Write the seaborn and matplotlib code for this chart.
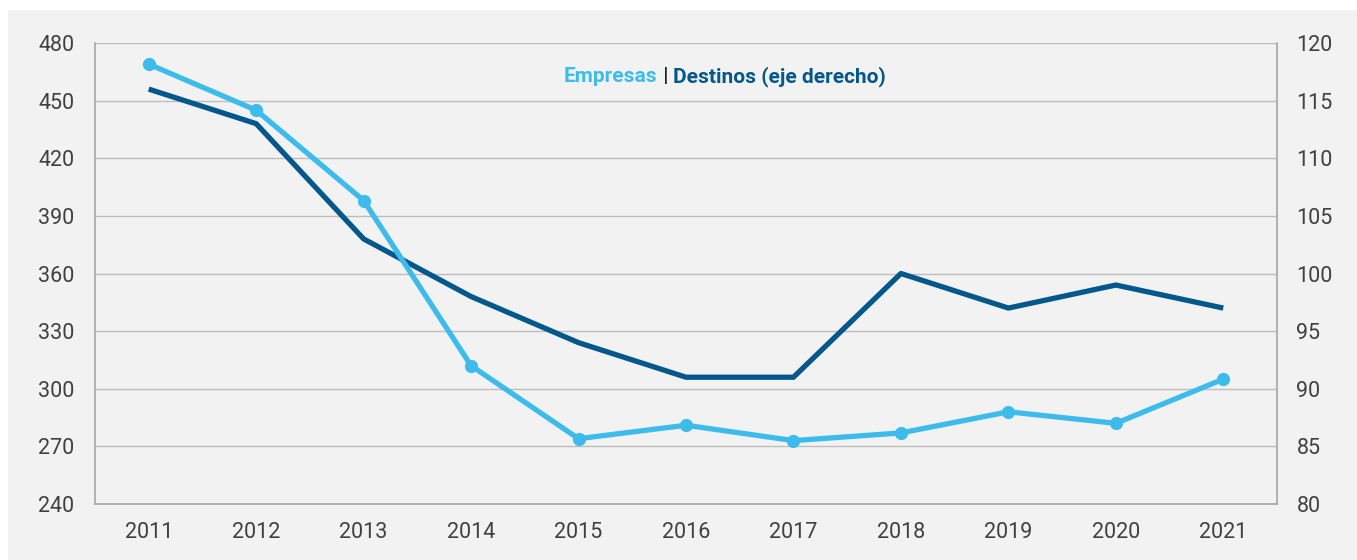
import pandas as pd
import seaborn as sns
import matplotlib.pyplot as plt
from matplotlib.patches import Rectangle
from matplotlib.offsetbox import TextArea, HPacker, AnchoredOffsetbox

years = ["2011", "2012", "2013", "2014", "2015", "2016", "2017", "2018", "2019", "2020", "2021"]
empresas = [469, 445, 398, 312, 274, 281, 273, 277, 288, 282, 305]
destinos = [116, 113, 103, 98, 94, 91, 91, 100, 97, 99, 97]

left_ticks = [240, 270, 300, 330, 360, 390, 420, 450, 480]
right_ticks = [80, 85, 90, 95, 100, 105, 110, 115, 120]

light = "#3dbcec"
dark = "#02578b"
bg = "#f2f2f2"
txt = "#404040"

df = pd.DataFrame({"year": years, "empresas": empresas, "destinos": destinos})

sns.set_style("white")
plt.rcParams["font.family"] = ["Roboto", "DejaVu Sans"]

fig = plt.figure(figsize=(13.57, 5.6), dpi=100, facecolor="white")
fig.patches.append(Rectangle((8 / 1357, 0), 1 - 8 / 1357, 1 - 10 / 560,
                             transform=fig.transFigure, facecolor=bg,
                             edgecolor="none", zorder=-10))

ax2 = fig.add_axes([95 / 1357, 0.1, 1182 / 1357, 461 / 560])
ax = ax2.twinx()
ax.yaxis.tick_left()
ax2.yaxis.tick_right()
ax.set_zorder(ax2.get_zorder() + 1)
ax.patch.set_visible(False)
ax2.set_facecolor(bg)

# destinos (right axis) underneath
sns.lineplot(data=df, x="year", y="destinos", ax=ax2, color=dark, linewidth=3.8,
             sort=False, solid_capstyle="butt")
# empresas (left axis) on top
sns.lineplot(data=df, x="year", y="empresas", ax=ax, color=light, linewidth=3.8,
             marker="o", markersize=9.5, markeredgewidth=0, sort=False)

ax.set_ylim(240, 480)
ax.set_yticks(left_ticks)
ax2.set_ylim(80, 120)
ax2.set_yticks(right_ticks)
ax2.set_xlim(-0.5, 10.5)
ax.set_xlim(-0.5, 10.5)

ax2.grid(axis="y", color="#bdbdbd", linewidth=1)
ax2.grid(axis="x", visible=False)
ax2.set_axisbelow(True)

for a in (ax, ax2):
    a.set_xlabel("")
    a.set_ylabel("")
    for s in a.spines.values():
        s.set_visible(False)
for k in ("left", "bottom", "right"):
    ax2.spines[k].set_visible(True)
    ax2.spines[k].set_color("#a6a6a6")
    ax2.spines[k].set_linewidth(1.2)

fs = 15.5
ax.tick_params(axis="y", length=0, pad=15, labelsize=fs, labelcolor=txt)
ax2.tick_params(axis="y", length=0, pad=14, labelsize=fs, labelcolor=txt)
ax2.tick_params(axis="x", length=0, pad=13, labelsize=fs, labelcolor=txt)
ax.tick_params(axis="x", bottom=False, labelbottom=False)

# title in two colours
tp = dict(fontsize=15, fontweight="bold")
parts = [
    TextArea("Empresas", textprops=dict(color=light, **tp)),
    TextArea(" | ", textprops=dict(color="#222222", **tp)),
    TextArea("Destinos (eje derecho)", textprops=dict(color=dark, **tp)),
]
box = HPacker(children=parts, align="baseline", pad=0, sep=0)
anch = AnchoredOffsetbox(loc="center", child=box, pad=0, frameon=False,
                         bbox_to_anchor=(0.533, 0.928), bbox_transform=ax.transAxes)
ax.add_artist(anch)

fig.savefig("out.png", dpi=100, facecolor="white")
